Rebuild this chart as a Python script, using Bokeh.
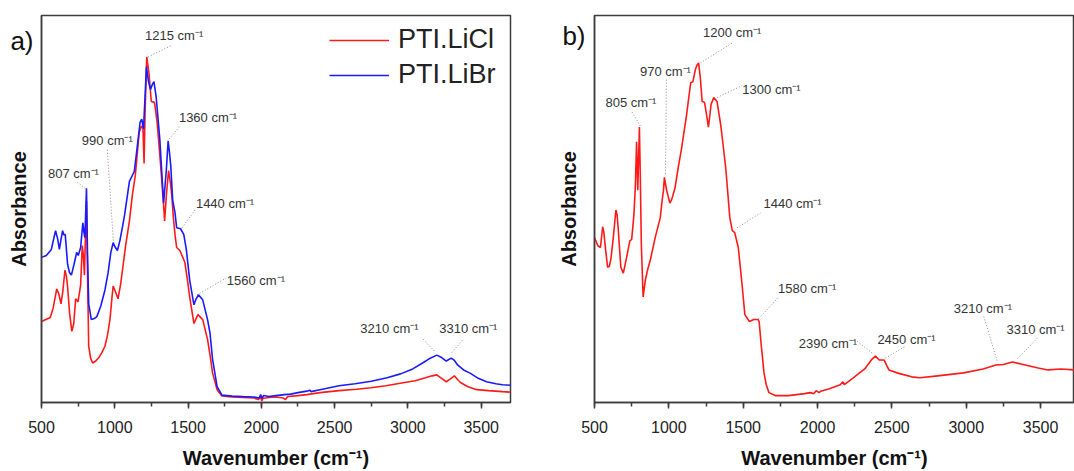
from bokeh.plotting import figure
from bokeh.models import (Range1d, SingleIntervalTicker, FixedTicker, Legend, LegendItem,
                          ColumnDataSource, CustomJSTickFormatter)
from bokeh.layouts import row
from bokeh.core.properties import value
from bokeh.embed import file_html
from bokeh.resources import INLINE

FONT = "Liberation Sans"

# ---------------- data: panel a ----------------
licl_wn = [500, 530, 560, 580, 604, 618, 633, 645, 660, 670, 678, 692, 707, 720, 733, 749, 767, 778,
           785, 793, 800, 807, 814, 822, 835, 849, 870, 889, 910, 933, 950, 967, 980, 989, 1005, 1022,
           1040, 1055, 1075, 1100, 1120, 1140, 1167, 1182, 1192, 1200, 1206, 1218, 1233, 1249, 1271,
           1289, 1311, 1333, 1340, 1352, 1367, 1380, 1389, 1400, 1411, 1422, 1444, 1478, 1495, 1511,
           1540, 1567, 1600, 1633, 1650, 1667, 1698, 1731, 1800, 1873, 1950, 1980, 1995, 2003, 2010,
           2050, 2100, 2150, 2165, 2180, 2250, 2311, 2400, 2530, 2650, 2748, 2850, 2967, 3050, 3120,
           3165, 3197, 3230, 3262, 3290, 3317, 3340, 3361, 3410, 3470, 3550, 3645, 3700]
licl_abs = [0.82, 0.84, 0.86, 0.96, 1.15, 1.10, 1.00, 1.12, 1.34, 1.28, 1.17, 0.90, 0.72, 0.80, 1.05,
            1.02, 1.19, 1.59, 1.50, 1.29, 1.70, 2.04, 1.30, 0.57, 0.45, 0.40, 0.42, 0.45, 0.50, 0.57,
            0.68, 0.84, 1.05, 1.18, 1.12, 1.05, 1.20, 1.37, 1.60, 1.84, 2.10, 2.30, 2.74, 2.80, 2.78,
            2.42, 2.90, 3.50, 3.34, 3.05, 3.04, 2.84, 2.44, 2.00, 1.84, 2.10, 2.35, 2.22, 2.10, 1.87,
            1.70, 1.57, 1.54, 1.42, 1.25, 1.07, 0.80, 0.89, 0.84, 0.64, 0.48, 0.30, 0.13, 0.066, 0.055,
            0.05, 0.045, 0.03, 0.055, 0.015, 0.04, 0.05, 0.055, 0.045, 0.03, 0.06, 0.07, 0.08, 0.10,
            0.12, 0.135, 0.15, 0.17, 0.20, 0.22, 0.25, 0.27, 0.28, 0.245, 0.21, 0.24, 0.27, 0.23, 0.20,
            0.16, 0.13, 0.12, 0.11, 0.105]

libr_wn = [500, 533, 567, 582, 596, 610, 622, 633, 644, 652, 662, 670, 678, 690, 704, 722, 740, 751,
           767, 782, 790, 796, 807, 814, 822, 840, 860, 878, 905, 933, 955, 973, 989, 1000, 1018, 1035,
           1055, 1067, 1100, 1133, 1150, 1173, 1184, 1196, 1205, 1216, 1230, 1244, 1256, 1267, 1282,
           1307, 1320, 1333, 1351, 1364, 1372, 1382, 1395, 1411, 1422, 1449, 1471, 1489, 1511, 1540,
           1555, 1571, 1600, 1633, 1650, 1667, 1698, 1731, 1800, 1873, 1950, 1985, 1995, 2005, 2015,
           2050, 2100, 2158, 2200, 2250, 2311, 2330, 2340, 2400, 2530, 2639, 2750, 2858, 2950, 3033,
           3100, 3142, 3197, 3230, 3262, 3295, 3315, 3339, 3380, 3427, 3480, 3536, 3600, 3645, 3700]
libr_abs = [1.47, 1.49, 1.55, 1.65, 1.74, 1.66, 1.55, 1.65, 1.74, 1.70, 1.70, 1.55, 1.40, 1.32, 1.29,
            1.40, 1.52, 1.49, 1.57, 1.82, 1.72, 1.67, 2.17, 1.50, 1.00, 0.84, 0.85, 0.87, 0.98, 1.14,
            1.32, 1.52, 1.62, 1.58, 1.54, 1.64, 1.80, 1.90, 2.24, 2.34, 2.55, 2.84, 2.87, 2.77, 3.05,
            3.40, 3.25, 3.17, 3.22, 3.25, 3.10, 2.67, 2.35, 2.02, 2.34, 2.65, 2.55, 2.40, 2.05, 1.92,
            1.77, 1.76, 1.70, 1.54, 1.24, 0.99, 1.05, 1.09, 1.04, 0.84, 0.70, 0.44, 0.16, 0.075, 0.065,
            0.06, 0.055, 0.045, 0.08, 0.04, 0.07, 0.06, 0.07, 0.08, 0.085, 0.10, 0.115, 0.125, 0.11,
            0.13, 0.17, 0.19, 0.215, 0.25, 0.29, 0.34, 0.40, 0.44, 0.48, 0.455, 0.42, 0.45, 0.43, 0.38,
            0.33, 0.295, 0.245, 0.21, 0.19, 0.18, 0.175]

# ---------------- data: panel b ----------------
pti_wn = [500, 522, 540, 555, 563, 571, 588, 600, 610, 625, 644, 652, 659, 677, 694, 716, 738, 750,
          765, 775, 783, 791, 797, 802, 808, 815, 827, 842, 858, 875, 908, 942, 955, 964, 970, 985,
          1007, 1020, 1041, 1063, 1085, 1118, 1147, 1162, 1178, 1190, 1200, 1211, 1224, 1240, 1253,
          1266, 1275, 1284, 1302, 1324, 1350, 1383, 1410, 1427, 1443, 1467, 1494, 1511, 1542, 1571,
          1600, 1607, 1622, 1640, 1655, 1673, 1716, 1804, 1913, 1950, 1975, 1990, 2010, 2022, 2080,
          2153, 2170, 2180, 2240, 2317, 2367, 2389, 2415, 2448, 2480, 2546, 2633, 2688, 2808, 2982,
          3113, 3200, 3250, 3310, 3397, 3484, 3550, 3637, 3728]
pti_abs = [1.67, 1.59, 1.57, 1.78, 1.72, 1.60, 1.37, 1.38, 1.45, 1.65, 1.95, 1.90, 1.77, 1.37, 1.31,
           1.47, 1.64, 1.65, 1.90, 2.20, 2.64, 2.15, 2.50, 2.79, 2.30, 1.60, 1.07, 1.24, 1.35, 1.44,
           1.67, 1.87, 2.05, 2.15, 2.28, 2.15, 2.02, 2.06, 2.17, 2.38, 2.57, 2.90, 3.24, 3.25, 3.37,
           3.42, 3.44, 3.30, 3.05, 3.04, 2.92, 2.79, 2.90, 3.02, 3.09, 3.05, 2.80, 2.37, 1.87, 1.74,
           1.72, 1.57, 1.17, 0.89, 0.82, 0.84, 0.84, 0.82, 0.57, 0.30, 0.18, 0.10, 0.07, 0.07, 0.09,
           0.10, 0.09, 0.12, 0.10, 0.115, 0.14, 0.18, 0.21, 0.18, 0.25, 0.34, 0.44, 0.47, 0.43, 0.43,
           0.33, 0.295, 0.26, 0.25, 0.27, 0.30, 0.34, 0.38, 0.385, 0.41, 0.38, 0.35, 0.33, 0.34, 0.33]

# ---------------- peak annotations ----------------
a_labels = ["1215 cm⁻¹", "990 cm⁻¹", "807 cm⁻¹", "1360 cm⁻¹", "1440 cm⁻¹", "1560 cm⁻¹",
            "3210 cm⁻¹", "3310 cm⁻¹"]
a_text_x = [1405, 949, 718, 1636, 1752, 1963, 2874, 3412]
a_text_y = [3.72, 2.65, 2.32, 2.89, 2.02, 1.24, 0.75, 0.75]
a_lead_x0 = [1228, 949, 745, 1371, 1459, 1561, 3105, 3371]
a_lead_y0 = [3.50, 2.56, 2.23, 2.67, 1.77, 1.09, 0.64, 0.63]
a_lead_x1 = [1391, 990, 806, 1446, 1548, 1759, 3187, 3296]
a_lead_y1 = [3.62, 1.64, 2.16, 2.80, 1.95, 1.26, 0.51, 0.50]

b_labels = ["1200 cm⁻¹", "970 cm⁻¹", "805 cm⁻¹", "1300 cm⁻¹", "1440 cm⁻¹", "1580 cm⁻¹",
            "2390 cm⁻¹", "2450 cm⁻¹", "3210 cm⁻¹", "3310 cm⁻¹"]
b_text_x = [1426, 977, 745, 1690, 1832, 1930, 2070, 2598, 3112, 3466]
b_text_y = [3.75, 3.35, 3.04, 3.17, 2.02, 1.15, 0.60, 0.64, 0.95, 0.74]
b_lead_x0 = [1213, 984, 753, 1325, 1459, 1605, 2267, 2457, 3118, 3477]
b_lead_y0 = [3.44, 3.27, 2.94, 3.09, 1.77, 0.85, 0.62, 0.45, 0.87, 0.65]
b_lead_x1 = [1435, 977, 809, 1493, 1616, 1739, 2368, 2591, 3208, 3343]
b_lead_y1 = [3.65, 2.30, 2.80, 3.21, 1.92, 1.07, 0.50, 0.57, 0.42, 0.44]

panel_tags = ["a)", "b)"]
panel_tag_y = [3.66, 3.71]

RED = "#ff1a1a"
BLUE = "#1a1aff"
AXC = "#3c3c3c"


def make_fig(width, border_left, border_right, x_end, tag, tag_y, tag_standoff, ylab_standoff):
    p = figure(width=width, height=471, output_backend="svg", toolbar_location=None,
               x_range=Range1d(500, x_end), y_range=Range1d(0, 3.92),
               min_border_left=border_left, min_border_right=border_right,
               min_border_top=15, min_border_bottom=64)
    p.grid.visible = False
    p.outline_line_color = AXC
    p.outline_line_width = 1.5
    p.background_fill_color = "white"
    p.border_fill_color = "white"

    xa = p.xaxis[0]
    xa.ticker = SingleIntervalTicker(interval=500, num_minor_ticks=2)
    xa.axis_line_color = AXC
    xa.axis_line_width = 1.5
    xa.major_tick_line_color = AXC
    xa.minor_tick_line_color = AXC
    xa.major_tick_line_width = 1.5
    xa.minor_tick_line_width = 1.5
    xa.major_tick_in = 0
    xa.major_tick_out = 6
    xa.minor_tick_in = 0
    xa.minor_tick_out = 4
    xa.major_label_text_font = FONT
    xa.major_label_text_font_size = "16px"
    xa.major_label_text_color = "#222222"
    xa.major_label_standoff = 12
    xa.axis_label = "Wavenumber (cm⁻¹)"
    xa.axis_label_text_font = FONT
    xa.axis_label_text_font_style = "bold"
    xa.axis_label_text_font_size = "20px"
    xa.axis_label_text_color = "#111111"
    xa.axis_label_standoff = 11

    # y axis: no ticks; the single "tick label" carries the panel tag a) / b)
    ya = p.yaxis[0]
    ya.ticker = FixedTicker(ticks=[tag_y], minor_ticks=[])
    ya.formatter = CustomJSTickFormatter(code="return '%s';" % tag)
    ya.axis_line_color = AXC
    ya.axis_line_width = 1.5
    ya.major_tick_out = 0
    ya.major_tick_in = 0
    ya.minor_tick_out = 0
    ya.minor_tick_in = 0
    ya.major_label_text_font = FONT
    ya.major_label_text_font_size = "26px"
    ya.major_label_text_color = "#111111"
    ya.major_label_standoff = tag_standoff
    ya.axis_label = "Absorbance"
    ya.axis_label_text_font = FONT
    ya.axis_label_text_font_style = "bold"
    ya.axis_label_text_font_size = "20px"
    ya.axis_label_text_color = "#111111"
    ya.axis_label_standoff = ylab_standoff
    return p


def annotate(p, labels, tx, ty, x0, y0, x1, y1):
    p.segment(x0=x0, y0=y0, x1=x1, y1=y1, line_color="#8a8a8a", line_width=1,
              line_dash="1 2")
    src = ColumnDataSource(dict(x=tx, y=ty, t=labels))
    p.text(x="x", y="y", text="t", source=src, text_font=value(FONT), text_font_size="13px",
           text_align="center", text_baseline="middle", text_color="#333333")


# ---------------- panel a ----------------
pa = make_fig(530, 41, 20, 3700, panel_tags[0], panel_tag_y[0], 8, -23)
annotate(pa, a_labels, a_text_x, a_text_y, a_lead_x0, a_lead_y0, a_lead_x1, a_lead_y1)
r_licl = pa.line(licl_wn, licl_abs, line_color=RED, line_width=1.6)
r_libr = pa.line(libr_wn, libr_abs, line_color=BLUE, line_width=1.6)
leg = Legend(items=[LegendItem(label="PTI.LiCl", renderers=[r_licl]),
                    LegendItem(label="PTI.LiBr", renderers=[r_libr])],
             location=(288, 312), border_line_color=None, background_fill_alpha=0,
             label_text_font=FONT, label_text_font_size="27px", label_text_color="#222222",
             glyph_width=60, glyph_height=20, label_standoff=9, spacing=4, padding=4,
             margin=0, label_height=30)
pa.add_layout(leg)

# ---------------- panel b ----------------
pb = make_fig(544, 64, 0, 3728, panel_tags[1], panel_tag_y[1], 9, -21)
annotate(pb, b_labels, b_text_x, b_text_y, b_lead_x0, b_lead_y0, b_lead_x1, b_lead_y1)
pb.line(pti_wn, pti_abs, line_color=RED, line_width=1.6)

layout = row(pa, pb)
open("out.html", "w").write(file_html(layout, INLINE))
